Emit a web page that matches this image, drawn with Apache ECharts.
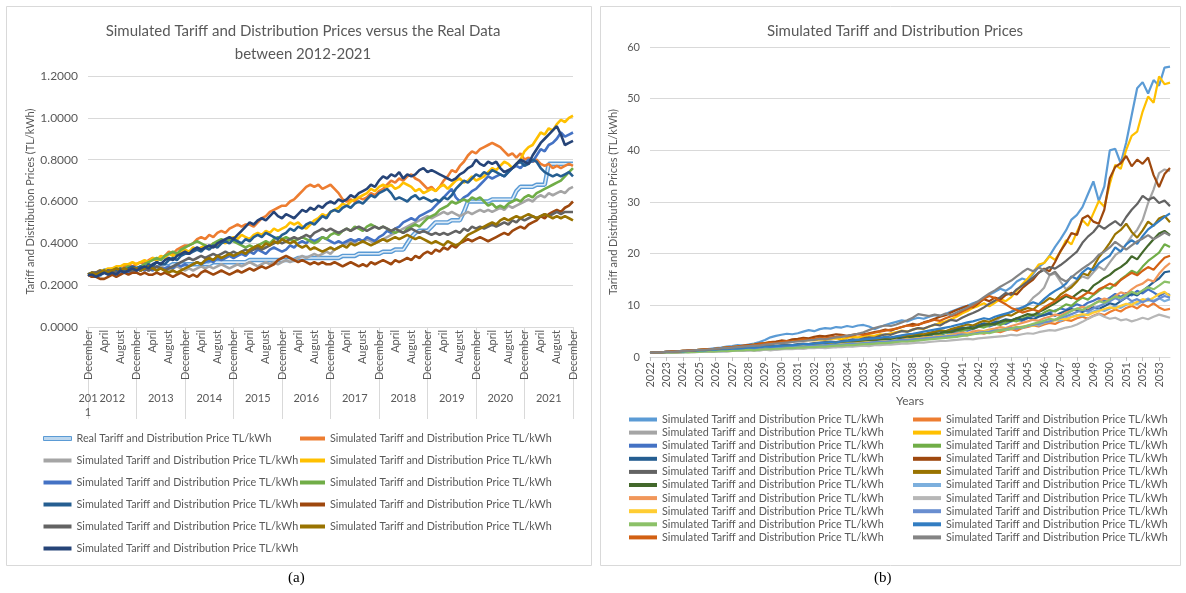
<!DOCTYPE html>
<html>
<head>
<meta charset="utf-8">
<script src="https://cdn.jsdelivr.net/npm/echarts@6/dist/echarts.min.js"></script>
<style>
  html, body { margin: 0; padding: 0; background: #fff; }
  #chart { width: 1186px; height: 593px; }
</style>
</head>
<body>
<div id="chart"></div>
<script>
// ---- panel (a): monthly, December 2011 - December 2021 ----
const monthNames = ['January','February','March','April','May','June','July','August','September','October','November','December'];
const yearsA = ['2011','2012','2013','2014','2015','2016','2017','2018','2019','2020','2021'];
const ticksA = [0, 0.2, 0.4, 0.6, 0.8, 1.0, 1.2];

const aReal = [.25,.25,.25,.25,.27,.27,.27,.27,.27,.27,.28,.28,.28,
  .28,.28,.28,.28,.28,.29,.29,.29,.30,.30,.30,.30,
  .30,.30,.30,.30,.30,.30,.31,.31,.31,.31,.31,.31,
  .31,.31,.31,.32,.32,.32,.32,.32,.32,.32,.32,.32,
  .32,.32,.32,.33,.33,.33,.33,.33,.33,.33,.33,.33,
  .33,.33,.34,.34,.34,.34,.35,.35,.35,.35,.35,.35,
  .36,.36,.36,.37,.37,.37,.40,.43,.45,.46,.46,.46,
  .48,.50,.50,.50,.50,.51,.51,.51,.55,.60,.60,.60,
  .60,.60,.60,.61,.61,.61,.61,.61,.61,.65,.67,.67,
  .67,.67,.68,.68,.68,.78,.78,.78,.78,.78,.78,.78];
const aOrange = [.25,.26,.26,.27,.26,.27,.28,.28,.27,.29,.30,.29,.30,
  .31,.30,.32,.33,.32,.33,.34,.36,.35,.37,.38,.39,
  .39,.40,.42,.43,.42,.44,.43,.45,.46,.45,.47,.48,
  .49,.48,.49,.49,.48,.50,.52,.53,.55,.56,.57,.58,
  .58,.60,.61,.63,.65,.67,.68,.67,.68,.66,.67,.68,
  .66,.64,.61,.60,.61,.60,.62,.61,.62,.64,.63,.65,
  .66,.68,.70,.69,.71,.70,.72,.73,.71,.70,.68,.66,
  .67,.65,.67,.70,.72,.75,.74,.77,.79,.82,.84,.83,
  .85,.86,.87,.88,.87,.86,.84,.82,.83,.81,.83,.80,
  .81,.79,.80,.78,.77,.78,.76,.77,.76,.77,.78,.77];
const aGray = [.25,.25,.26,.25,.26,.27,.26,.27,.26,.27,.28,.27,.28,
  .27,.28,.27,.28,.27,.29,.28,.27,.28,.29,.28,.27,
  .28,.27,.28,.29,.28,.29,.28,.29,.30,.29,.28,.29,
  .30,.29,.30,.31,.30,.29,.30,.31,.30,.31,.30,.31,
  .32,.31,.32,.33,.34,.33,.34,.35,.34,.35,.36,.35,
  .37,.38,.39,.40,.41,.40,.42,.41,.42,.41,.40,.41,
  .42,.43,.44,.45,.46,.47,.48,.49,.50,.51,.52,.53,
  .52,.53,.54,.55,.54,.55,.54,.53,.54,.55,.54,.55,
  .56,.55,.56,.55,.56,.57,.56,.58,.57,.58,.59,.60,
  .61,.60,.62,.63,.62,.64,.63,.64,.65,.64,.66,.67];
const aGold = [.25,.25,.26,.27,.27,.28,.28,.29,.29,.30,.30,.31,.30,
  .31,.32,.31,.33,.32,.34,.33,.35,.34,.35,.36,.37,
  .36,.38,.37,.38,.39,.38,.40,.39,.41,.40,.42,.43,
  .42,.44,.43,.42,.44,.45,.44,.46,.45,.47,.46,.47,
  .48,.50,.49,.50,.48,.47,.49,.51,.52,.54,.53,.55,
  .56,.57,.59,.58,.60,.61,.62,.63,.64,.66,.65,.67,
  .68,.67,.68,.66,.67,.69,.68,.67,.65,.66,.64,.65,
  .66,.65,.67,.68,.66,.68,.70,.71,.69,.70,.72,.70,
  .71,.72,.74,.76,.75,.77,.79,.78,.76,.78,.80,.84,
  .86,.87,.90,.93,.92,.95,.94,.97,.99,.98,1.00,1.01];
const aBlue = [.25,.24,.25,.25,.26,.25,.26,.26,.25,.27,.26,.27,.27,
  .28,.27,.28,.27,.29,.28,.28,.29,.28,.30,.29,.30,
  .29,.30,.31,.30,.31,.32,.31,.33,.32,.33,.34,.33,
  .34,.35,.34,.36,.35,.37,.36,.35,.37,.38,.37,.36,
  .37,.39,.38,.40,.41,.40,.42,.41,.42,.43,.42,.41,
  .40,.41,.40,.41,.42,.41,.42,.41,.43,.42,.41,.43,
  .44,.46,.45,.47,.48,.50,.51,.52,.51,.53,.54,.55,
  .56,.58,.60,.62,.64,.66,.62,.60,.62,.63,.65,.66,
  .68,.70,.72,.71,.72,.73,.72,.74,.76,.77,.76,.78,
  .80,.79,.82,.85,.84,.87,.88,.90,.93,.91,.92,.93];
const aGreen = [.25,.26,.25,.26,.27,.26,.27,.28,.27,.28,.29,.28,.28,
  .29,.30,.31,.32,.33,.32,.34,.35,.36,.35,.37,.38,
  .39,.40,.41,.40,.39,.38,.40,.41,.42,.41,.42,.41,
  .40,.39,.38,.39,.38,.39,.40,.41,.40,.42,.43,.42,
  .43,.42,.41,.42,.43,.42,.41,.40,.41,.43,.42,.44,
  .45,.44,.46,.47,.46,.48,.47,.46,.48,.49,.48,.47,
  .48,.47,.46,.45,.46,.45,.47,.48,.49,.48,.50,.52,
  .53,.54,.56,.57,.58,.60,.59,.60,.61,.60,.62,.61,
  .62,.60,.58,.59,.57,.58,.57,.59,.60,.61,.60,.62,
  .63,.62,.64,.65,.66,.67,.68,.69,.70,.72,.74,.76];
const aDarkBlue = [.25,.25,.26,.25,.26,.27,.26,.27,.28,.27,.28,.29,.28,
  .29,.28,.30,.29,.31,.30,.30,.32,.33,.32,.34,.35,
  .35,.36,.37,.36,.38,.37,.39,.38,.40,.41,.40,.42,
  .41,.40,.42,.41,.43,.44,.43,.45,.44,.43,.42,.44,
  .45,.47,.46,.48,.47,.49,.50,.49,.51,.53,.52,.55,
  .56,.55,.57,.58,.57,.59,.60,.59,.61,.63,.62,.64,
  .65,.66,.64,.61,.62,.61,.60,.62,.63,.61,.62,.61,
  .60,.61,.60,.62,.61,.63,.66,.68,.70,.69,.71,.73,
  .72,.74,.73,.75,.74,.73,.72,.74,.76,.78,.79,.77,
  .78,.80,.79,.76,.74,.73,.72,.73,.72,.73,.74,.72];
const aBrown = [.25,.24,.24,.23,.23,.24,.25,.24,.25,.26,.25,.26,.26,
  .25,.26,.25,.25,.26,.25,.26,.25,.24,.25,.26,.25,
  .24,.25,.24,.26,.27,.26,.25,.26,.27,.26,.25,.26,
  .27,.26,.27,.28,.27,.28,.29,.28,.29,.30,.32,.33,
  .34,.33,.32,.31,.32,.31,.30,.31,.30,.31,.30,.30,
  .31,.30,.29,.30,.31,.30,.29,.30,.29,.31,.30,.31,
  .32,.31,.30,.32,.31,.32,.33,.32,.34,.33,.35,.36,
  .35,.37,.36,.38,.37,.39,.38,.40,.41,.42,.41,.42,
  .43,.42,.41,.42,.43,.44,.45,.44,.46,.47,.48,.47,
  .49,.50,.51,.53,.52,.54,.55,.56,.55,.57,.58,.60];
const aDarkGray = [.25,.26,.26,.27,.26,.27,.27,.26,.27,.28,.27,.27,.28,
  .27,.28,.27,.28,.29,.28,.27,.28,.29,.30,.31,.32,
  .33,.32,.33,.34,.33,.34,.35,.34,.35,.36,.35,.36,
  .35,.36,.37,.36,.37,.38,.37,.38,.39,.40,.41,.40,
  .41,.42,.43,.42,.43,.44,.43,.45,.46,.47,.46,.47,
  .46,.45,.46,.47,.46,.47,.48,.47,.46,.47,.48,.47,
  .48,.47,.46,.47,.46,.45,.46,.47,.46,.45,.46,.45,
  .44,.45,.44,.45,.44,.45,.46,.45,.47,.46,.48,.47,
  .48,.47,.48,.49,.48,.49,.50,.49,.51,.50,.52,.51,
  .52,.53,.52,.53,.54,.53,.54,.55,.54,.55,.55,.55];
const aOlive = [.25,.26,.25,.26,.27,.26,.27,.28,.27,.28,.27,.28,.28,
  .27,.28,.29,.28,.27,.28,.27,.26,.27,.26,.27,.28,
  .29,.30,.31,.30,.32,.33,.32,.34,.33,.34,.35,.34,
  .35,.36,.35,.37,.38,.39,.38,.40,.39,.41,.40,.42,
  .41,.40,.41,.39,.38,.39,.37,.38,.37,.36,.37,.38,
  .37,.38,.39,.38,.40,.39,.40,.41,.40,.39,.40,.41,
  .42,.41,.42,.43,.42,.43,.44,.43,.42,.43,.42,.41,
  .40,.41,.40,.39,.41,.40,.39,.40,.42,.44,.45,.46,
  .47,.48,.49,.50,.49,.51,.52,.51,.52,.53,.52,.53,
  .54,.53,.52,.53,.54,.53,.52,.53,.52,.53,.52,.51];
const aNavy = [.25,.25,.24,.25,.26,.25,.26,.25,.27,.26,.27,.28,.27,
  .28,.29,.28,.30,.31,.30,.32,.33,.32,.34,.35,.36,
  .35,.37,.38,.37,.38,.39,.38,.40,.41,.42,.43,.42,
  .44,.46,.48,.50,.49,.51,.52,.51,.53,.55,.53,.52,
  .54,.53,.52,.54,.56,.55,.57,.56,.58,.57,.59,.60,
  .59,.61,.60,.61,.63,.62,.64,.65,.66,.68,.67,.70,
  .72,.71,.73,.72,.74,.71,.73,.72,.73,.75,.76,.74,
  .75,.74,.73,.72,.71,.70,.71,.73,.74,.76,.77,.80,
  .78,.77,.79,.78,.79,.76,.74,.75,.76,.78,.80,.79,
  .78,.82,.85,.88,.90,.92,.94,.96,.92,.87,.88,.89];

// ---- panel (b): three points a year, 2022 - 2053 ----
const yearsB = [];
for (let y = 2022; y <= 2053; y++) yearsB.push(String(y));
const partsB = ['01', '05', '09'];
const ticksB = [0, 10, 20, 30, 40, 50, 60];

const b01 = [0.8,0.9,0.9,1.0,1.1,1.0,1.2,1.3,1.3,1.4,1.5,1.6,
  1.7,1.8,2.0,2.1,2.3,2.2,2.4,2.6,2.9,3.3,3.8,4.1,
  4.3,4.5,4.4,4.6,4.9,5.2,5.0,5.4,5.6,5.5,5.8,5.7,
  6.0,5.8,6.1,6.2,5.9,5.4,5.8,6.2,6.5,6.8,7.1,6.9,
  7.3,7.6,7.4,7.8,8.1,7.9,8.3,8.8,9.2,9.6,9.9,10.4,
  10.8,11.3,12.1,12.6,13.2,12.8,13.5,14.6,15.2,14.8,16.1,17.4,
  18.2,19.6,21.3,22.8,24.5,26.6,27.5,29.0,31.5,34.0,30.2,33.0,
  40.0,40.3,37.5,41.5,46.8,52.0,53.2,51.0,53.6,52.5,56.0,56.2];
const b02 = [0.8,0.8,0.9,0.9,1.0,1.0,1.0,1.1,1.1,1.2,1.1,1.2,
  1.3,1.2,1.3,1.4,1.3,1.4,1.5,1.4,1.5,1.6,1.5,1.7,
  1.6,1.8,1.7,1.9,1.8,2.0,2.1,2.0,2.2,2.1,2.3,2.4,
  2.3,2.5,2.4,2.6,2.7,2.6,2.8,2.9,3.1,3.0,3.2,3.3,
  3.1,3.4,3.6,3.5,3.7,3.9,3.8,4.1,4.0,4.3,4.2,4.5,
  4.7,4.5,4.8,5.0,4.8,5.2,5.4,5.1,5.6,5.8,6.1,5.9,
  6.3,6.6,6.4,6.9,7.2,7.0,7.5,7.8,7.4,8.0,8.4,8.1,
  8.7,9.2,8.8,9.5,9.9,9.4,10.2,9.7,10.4,9.6,9.1,9.3];
const b03 = [0.8,0.8,0.8,0.9,0.9,1.0,0.9,1.0,1.0,1.1,1.0,1.1,
  1.1,1.2,1.1,1.2,1.3,1.2,1.3,1.4,1.3,1.4,1.5,1.4,
  1.5,1.6,1.6,1.7,1.6,1.8,1.8,1.9,1.8,2.0,1.9,2.1,
  2.2,2.1,2.3,2.4,2.3,2.5,2.6,2.5,2.7,2.9,3.1,3.0,
  3.3,3.5,3.4,3.7,3.9,4.2,4.0,4.4,4.8,5.1,5.5,5.3,
  5.9,6.4,6.2,7.0,7.6,8.1,8.8,9.4,9.1,10.2,11.5,12.3,
  13.4,15.8,16.2,14.6,13.1,13.9,14.8,15.6,15.2,16.4,17.5,16.8,
  18.3,19.7,20.5,21.8,23.4,24.6,26.5,29.8,32.4,35.6,36.3,36.0];
const b04 = [0.8,0.9,0.9,1.0,1.0,1.1,1.2,1.1,1.3,1.4,1.5,1.4,
  1.6,1.7,1.8,1.9,2.0,2.1,2.2,2.4,2.5,2.7,2.9,2.8,
  3.0,2.9,3.1,3.2,3.1,3.3,3.2,3.4,3.3,3.5,3.6,3.4,
  3.7,3.9,3.8,4.0,4.2,4.1,4.4,4.3,4.6,4.8,5.1,4.9,
  5.3,5.6,5.4,5.9,6.2,6.6,6.9,7.3,7.8,8.4,8.9,9.5,
  9.9,10.4,9.8,10.5,11.2,10.8,11.6,12.8,14.1,15.2,16.4,17.9,
  18.2,19.5,18.8,20.4,22.6,21.8,24.2,26.5,25.4,27.8,30.2,29.1,
  33.5,37.2,36.4,40.1,42.8,43.6,47.5,50.4,49.2,54.3,52.8,53.1];
const b05 = [0.8,0.8,0.9,0.9,1.0,0.9,1.0,1.1,1.0,1.1,1.2,1.2,
  1.3,1.2,1.4,1.4,1.5,1.4,1.6,1.5,1.7,1.7,1.8,1.9,
  1.8,2.0,2.1,2.0,2.2,2.1,2.3,2.2,2.4,2.5,2.4,2.6,
  2.7,2.8,2.7,2.9,3.0,3.2,3.1,3.3,3.5,3.4,3.6,3.8,
  3.9,3.7,4.1,4.2,4.4,4.3,4.6,4.8,5.0,5.3,5.1,5.5,
  5.8,6.1,5.9,6.3,6.6,6.4,6.9,7.2,7.0,7.5,7.9,8.3,
  8.1,8.6,9.0,9.4,9.1,9.7,10.2,9.8,10.5,10.9,11.4,10.8,
  11.5,12.2,11.6,12.4,11.9,12.8,12.3,13.1,12.5,11.8,12.4,12.0];
const b06 = [0.8,0.8,0.9,0.9,0.9,1.0,1.0,1.1,1.0,1.1,1.2,1.1,
  1.2,1.3,1.3,1.4,1.3,1.5,1.5,1.6,1.5,1.7,1.6,1.8,
  1.9,1.8,2.0,2.1,2.0,2.2,2.3,2.4,2.3,2.5,2.6,2.5,
  2.7,2.8,2.9,3.0,3.1,2.9,3.2,3.3,3.5,3.6,3.5,3.8,
  3.9,4.1,4.0,4.3,4.5,4.4,4.7,4.9,5.2,5.0,5.4,5.6,
  5.9,5.7,6.1,6.4,6.2,6.7,7.1,6.9,7.4,7.8,8.2,7.9,
  8.6,9.1,8.8,9.5,10.2,9.9,10.8,11.5,11.1,12.0,12.8,13.5,
  13.2,14.1,15.0,15.8,16.7,16.2,17.5,18.6,19.4,20.2,21.8,21.3];
const b07 = [0.8,0.9,0.8,0.9,1.0,1.0,1.1,1.0,1.1,1.2,1.2,1.3,
  1.3,1.4,1.3,1.5,1.4,1.6,1.6,1.7,1.8,1.9,1.8,2.0,
  2.1,2.0,2.2,2.3,2.4,2.3,2.5,2.6,2.5,2.7,2.8,2.9,
  3.0,2.9,3.1,3.2,3.4,3.3,3.5,3.7,3.6,3.9,3.8,4.1,
  4.2,4.4,4.3,4.6,4.8,5.0,4.9,5.2,5.5,5.7,5.6,6.0,
  6.2,6.5,6.3,6.7,6.9,7.3,7.1,7.5,7.2,7.6,7.3,7.8,
  8.1,8.4,8.0,8.5,8.9,9.3,9.0,8.7,9.2,9.6,9.3,9.8,
  10.4,10.1,10.8,11.5,12.3,11.9,12.8,13.6,14.5,15.2,16.4,16.6];
const b08 = [0.8,0.9,0.9,1.0,1.0,1.1,1.2,1.2,1.3,1.4,1.5,1.5,
  1.6,1.7,1.8,1.9,2.0,2.2,2.3,2.4,2.6,2.7,2.9,3.0,
  3.2,3.1,3.4,3.5,3.7,3.6,3.9,4.1,4.0,4.2,4.4,4.3,
  4.1,4.3,4.5,4.4,4.6,4.8,5.0,5.3,5.1,5.5,5.8,6.1,
  6.4,6.2,6.7,7.0,7.4,7.8,8.1,8.6,9.1,9.5,9.9,9.6,
  10.4,11.2,10.8,11.5,11.1,12.0,12.4,12.1,13.3,14.2,15.0,16.3,
  17.1,16.6,18.4,20.5,22.1,24.0,23.6,26.8,27.4,26.2,25.8,28.5,
  34.6,36.8,37.5,38.9,36.9,38.2,37.4,38.6,35.2,32.9,35.4,36.6];
const b09 = [0.8,0.9,0.9,1.0,1.0,1.1,1.1,1.2,1.2,1.3,1.3,1.4,
  1.4,1.5,1.6,1.6,1.7,1.8,1.9,1.8,2.0,2.1,2.2,2.1,
  2.3,2.4,2.3,2.5,2.6,2.5,2.7,2.8,2.9,3.0,2.9,3.1,
  3.2,3.4,3.3,3.6,3.8,3.7,4.1,4.4,4.3,4.7,5.0,4.9,
  5.3,5.6,5.5,5.9,6.3,6.1,6.7,7.2,7.0,7.6,8.1,8.5,
  9.0,9.6,10.3,10.9,11.6,12.4,12.0,13.1,13.8,14.6,15.4,16.3,
  16.9,17.4,17.1,17.8,18.6,19.5,20.4,22.1,23.3,24.2,25.5,24.8,
  25.6,26.3,25.4,27.1,28.5,29.6,31.2,30.4,30.9,29.8,30.3,29.2];
const b10 = [0.8,0.8,0.9,0.9,1.0,1.0,1.1,1.0,1.1,1.2,1.2,1.3,
  1.3,1.4,1.4,1.5,1.6,1.5,1.7,1.7,1.8,1.9,2.0,1.9,
  2.1,2.0,2.2,2.3,2.4,2.3,2.5,2.6,2.7,2.6,2.8,2.9,
  3.0,3.1,3.0,3.2,3.4,3.3,3.5,3.7,3.6,3.9,4.1,4.0,
  4.3,4.5,4.4,4.7,4.9,5.2,5.0,5.4,5.7,6.0,6.3,6.1,
  6.6,7.0,6.8,7.3,7.8,8.2,8.0,8.6,9.1,9.5,9.2,10.1,
  10.6,11.4,11.0,12.1,12.8,13.5,14.6,16.2,15.8,17.4,19.3,20.6,
  22.1,23.8,24.6,25.8,24.2,23.1,24.5,26.2,25.4,26.8,27.3,26.1];
const b11 = [0.8,0.8,0.9,0.9,0.9,1.0,1.0,1.1,1.0,1.1,1.2,1.1,
  1.2,1.3,1.3,1.4,1.3,1.5,1.5,1.6,1.6,1.7,1.8,1.7,
  1.9,1.9,2.0,2.1,2.0,2.2,2.3,2.2,2.4,2.5,2.6,2.5,
  2.7,2.8,2.8,3.0,3.1,3.0,3.2,3.4,3.3,3.6,3.5,3.8,
  3.9,4.1,4.0,4.3,4.5,4.6,4.9,4.8,5.2,5.4,5.7,5.5,
  5.9,6.2,6.4,6.3,6.8,7.1,7.0,7.5,7.9,8.3,8.1,8.7,
  9.2,9.8,10.4,11.1,11.8,11.4,12.2,13.0,12.6,13.8,14.5,15.3,
  15.9,16.8,17.4,18.2,19.5,18.9,20.3,21.6,22.8,23.9,24.4,23.6];
const b12 = [0.8,0.8,0.8,0.9,0.9,0.9,1.0,1.0,1.1,1.0,1.1,1.2,
  1.2,1.1,1.2,1.3,1.3,1.4,1.4,1.5,1.4,1.5,1.6,1.6,
  1.7,1.6,1.8,1.8,1.9,1.9,2.0,2.1,2.0,2.2,2.1,2.3,
  2.4,2.3,2.5,2.6,2.5,2.7,2.8,2.9,2.8,3.0,3.1,3.2,
  3.3,3.2,3.5,3.6,3.8,3.7,3.9,4.1,4.0,4.3,4.5,4.4,
  4.7,4.6,4.9,5.1,5.3,5.2,5.5,5.8,5.6,6.0,6.3,6.1,
  6.6,6.9,7.2,7.0,7.5,7.8,8.1,7.9,8.4,8.8,9.2,8.9,
  9.4,9.8,9.5,10.1,10.6,10.2,10.8,11.3,10.9,11.4,10.8,11.2];
const b13 = [0.8,0.8,0.9,0.9,1.0,0.9,1.0,1.1,1.0,1.1,1.1,1.2,
  1.2,1.3,1.2,1.3,1.4,1.4,1.5,1.4,1.6,1.6,1.7,1.6,
  1.7,1.8,1.8,1.9,2.0,1.9,2.1,2.0,2.2,2.3,2.2,2.4,
  2.5,2.4,2.6,2.7,2.8,2.7,2.9,3.1,3.0,3.2,3.3,3.5,
  3.4,3.6,3.8,3.7,3.9,4.1,4.0,4.3,4.5,4.7,4.6,4.9,
  5.1,5.0,5.3,5.5,5.8,5.6,6.0,6.3,6.6,6.9,7.2,7.0,
  7.5,7.8,8.2,8.0,8.6,9.0,9.3,9.7,9.4,10.2,10.8,11.3,
  11.0,11.8,12.5,12.2,13.1,13.8,14.2,15.0,14.6,16.1,17.3,18.2];
const b14 = [0.8,0.8,0.8,0.8,0.9,0.9,0.9,1.0,0.9,1.0,1.0,1.0,
  1.1,1.1,1.1,1.2,1.2,1.2,1.3,1.2,1.3,1.4,1.3,1.4,
  1.5,1.5,1.5,1.6,1.6,1.7,1.7,1.8,1.7,1.8,1.9,1.9,
  2.0,2.0,2.1,2.2,2.1,2.3,2.3,2.4,2.4,2.5,2.6,2.6,
  2.7,2.8,2.8,2.9,3.0,3.1,3.1,3.2,3.3,3.4,3.5,3.4,
  3.6,3.7,3.8,3.9,4.0,4.1,4.3,4.2,4.4,4.6,4.5,4.8,
  5.0,5.2,5.1,5.4,5.7,5.9,6.3,6.8,7.4,7.9,8.3,7.8,
  7.4,7.6,7.1,7.3,6.9,7.2,7.6,7.3,7.8,8.2,7.9,7.6];
const b15 = [0.8,0.8,0.9,0.9,0.9,1.0,1.0,1.0,1.1,1.1,1.2,1.2,
  1.2,1.3,1.3,1.4,1.4,1.5,1.5,1.6,1.6,1.7,1.7,1.8,
  1.8,1.9,1.9,2.0,2.1,2.0,2.2,2.2,2.3,2.4,2.4,2.5,
  2.6,2.6,2.7,2.8,2.9,2.8,3.0,3.1,3.1,3.3,3.2,3.4,
  3.5,3.6,3.7,3.8,3.9,4.0,4.1,4.3,4.2,4.4,4.6,4.5,
  4.8,4.9,5.1,5.0,5.3,5.5,5.4,5.7,5.9,6.1,6.0,6.4,
  6.6,6.9,7.1,7.4,7.3,7.7,8.0,8.3,8.1,8.6,8.9,9.3,
  9.6,9.4,9.9,10.3,10.1,10.7,11.2,10.9,11.5,12.2,12.6,11.8];
const b16 = [0.8,0.8,0.9,0.9,0.9,1.0,1.0,1.1,1.1,1.1,1.2,1.2,
  1.3,1.2,1.3,1.4,1.4,1.5,1.5,1.6,1.5,1.6,1.7,1.7,
  1.8,1.8,1.9,2.0,2.0,2.1,2.1,2.2,2.3,2.3,2.4,2.4,
  2.5,2.6,2.6,2.7,2.8,2.9,3.0,3.0,3.1,3.2,3.3,3.3,
  3.4,3.5,3.6,3.7,3.8,3.9,4.0,4.1,4.2,4.4,4.3,4.5,
  4.7,4.8,4.9,5.1,5.2,5.4,5.6,5.5,5.8,6.0,6.2,6.4,
  6.7,6.9,7.2,7.6,7.9,8.3,8.7,9.1,8.8,9.4,9.8,10.3,
  10.8,11.4,10.9,11.6,10.8,11.2,10.6,11.1,10.7,11.3,11.8,11.5];
const b17 = [0.8,0.8,0.8,0.9,0.9,0.9,1.0,0.9,1.0,1.0,1.1,1.1,
  1.1,1.2,1.2,1.2,1.3,1.3,1.4,1.3,1.4,1.5,1.5,1.6,
  1.6,1.7,1.7,1.8,1.8,1.9,1.9,2.0,2.0,2.1,2.2,2.2,
  2.3,2.3,2.4,2.5,2.5,2.6,2.7,2.7,2.8,2.9,3.0,3.0,
  3.1,3.2,3.3,3.4,3.5,3.6,3.7,3.8,3.9,4.1,4.2,4.4,
  4.5,4.7,4.6,4.9,5.1,5.3,5.5,5.8,5.7,6.1,6.4,6.7,
  7.0,7.4,7.2,7.8,8.3,8.9,9.4,9.1,9.7,10.2,10.8,10.5,
  11.1,11.7,11.4,12.0,12.6,12.2,12.9,13.5,13.1,13.8,14.6,14.4];
const b18 = [0.8,0.9,0.9,1.0,1.0,1.1,1.1,1.2,1.2,1.3,1.3,1.4,
  1.4,1.5,1.5,1.6,1.6,1.7,1.8,1.8,1.9,2.0,2.0,2.1,
  2.2,2.2,2.3,2.4,2.5,2.5,2.6,2.7,2.8,2.9,2.8,3.0,
  3.1,3.2,3.3,3.4,3.5,3.6,3.7,3.9,3.8,4.0,4.2,4.4,
  4.5,4.7,4.9,5.1,5.3,5.5,5.7,5.9,6.2,6.4,6.7,6.9,
  7.2,7.5,7.3,7.8,8.1,8.4,8.7,9.2,9.6,10.1,10.6,10.2,
  11.2,12.1,12.8,13.4,14.2,15.6,15.1,16.4,17.2,16.8,18.1,18.9,
  19.6,21.2,20.4,21.8,22.6,21.9,23.4,24.7,25.5,26.3,27.1,27.8];
const b19 = [0.8,0.9,0.9,1.0,1.1,1.1,1.2,1.3,1.3,1.4,1.5,1.5,
  1.6,1.7,1.8,1.9,2.0,2.1,2.2,2.3,2.5,2.6,2.8,2.7,
  2.9,3.1,3.0,3.2,3.4,3.3,3.5,3.7,3.6,3.8,3.9,4.1,
  4.0,4.2,4.4,4.3,4.5,4.7,4.9,5.1,5.3,5.5,5.8,6.1,
  6.0,6.3,6.6,6.9,7.2,7.0,7.5,7.9,8.2,8.8,9.3,9.8,
  10.6,11.3,11.8,11.4,10.8,10.2,9.5,9.1,8.6,8.9,9.2,8.8,
  9.6,10.2,10.8,11.5,12.1,11.6,11.2,11.8,12.5,12.2,13.1,13.6,
  14.2,13.8,14.9,15.6,16.3,15.8,16.7,17.4,16.9,18.1,19.2,19.6];
const b20 = [0.8,0.9,0.9,1.0,1.0,1.1,1.2,1.2,1.3,1.4,1.4,1.5,
  1.6,1.7,1.7,1.8,1.9,2.0,2.1,2.2,2.2,2.4,2.5,2.6,
  2.7,2.8,2.9,3.0,3.1,3.2,3.3,3.5,3.4,3.6,3.8,3.9,
  4.1,4.3,4.5,4.8,5.2,5.6,5.9,6.1,6.0,6.3,6.7,7.1,
  7.6,8.3,8.1,7.9,8.2,8.0,8.4,8.1,8.6,9.1,9.6,10.2,
  10.8,11.6,12.3,12.9,13.6,14.2,14.8,15.6,16.4,17.1,16.6,17.3,
  16.8,15.9,16.5,15.2,14.6,15.4,16.3,17.1,17.8,18.6,19.8,20.4,
  21.2,22.3,21.5,20.8,21.6,22.4,22.9,23.6,22.8,23.4,24.1,23.5];

// ---- build categories ----
const catsA = ['December ' + yearsA[0]];
yearsA.slice(1).forEach(y => monthNames.forEach(m => catsA.push(m + ' ' + y)));
const catsB = [];
yearsB.forEach(y => partsB.forEach(p => catsB.push(y + '-' + p)));

const FONT = 'Lato, "Open Sans", sans-serif';
const TXT = '#595959';
const GRID_LINE = '#d9d9d9';
const realName = 'Real Tariff and Distribution Price TL/kWh';
const simName = 'Simulated Tariff and Distribution Price TL/kWh';

// names must be unique for the legend, pad with trailing spaces and trim when shown
const simA = [
  [aOrange, '#ED7D31'], [aGray, '#A5A5A5'], [aGold, '#FFC000'], [aBlue, '#4472C4'],
  [aGreen, '#70AD47'], [aDarkBlue, '#255E91'], [aBrown, '#9E480E'], [aDarkGray, '#636363'],
  [aOlive, '#997300'], [aNavy, '#264478']
];
const simB = [
  [b01, '#5B9BD5'], [b02, '#ED7D31'], [b03, '#A5A5A5'], [b04, '#FFC000'], [b05, '#4472C4'],
  [b06, '#70AD47'], [b07, '#255E91'], [b08, '#9E480E'], [b09, '#636363'], [b10, '#997300'],
  [b11, '#43682B'], [b12, '#7CAFDD'], [b13, '#F1975A'], [b14, '#B7B7B7'], [b15, '#FFCD33'],
  [b16, '#698ED0'], [b17, '#8CC168'], [b18, '#327DC2'], [b19, '#D26012'], [b20, '#848484']
];
const namesA = simA.map((s, i) => simName + ' '.repeat(i + 1));
const namesB = simB.map((s, i) => simName + ' '.repeat(i + 20));

function lineSeries(name, data, color, width, xi, yi) {
  return {
    type: 'line', name: name, data: data,
    xAxisIndex: xi, yAxisIndex: yi,
    symbol: 'none', smooth: false,
    lineStyle: { color: color, width: width },
    itemStyle: { color: color },
    emphasis: { disabled: true }
  };
}

const series = [];
series.push(lineSeries(realName, aReal, '#5B9BD5', 4.5, 0, 0));
series.push(Object.assign(lineSeries('real-inner', aReal, '#DDEBF7', 1.6, 0, 0), { silent: true }));
simA.forEach((s, i) => series.push(lineSeries(namesA[i], s[0], s[1], 2.6, 0, 0)));
simB.forEach((s, i) => series.push(lineSeries(namesB[i], s[0], s[1], 2.2, 2, 1)));

function legend(data, left, top, gap, w) {
  return {
    data: data, orient: 'vertical', left: left, top: top,
    icon: 'rect', itemWidth: w, itemHeight: 4, itemGap: gap,
    selectedMode: false,
    formatter: n => n.trim(),
    textStyle: { fontSize: 10.8, color: TXT, fontFamily: FONT }
  };
}

const legendALeft = [{ name: realName, itemStyle: { color: '#BDD7EE', borderColor: '#5B9BD5', borderWidth: 1 } }]
  .concat(namesA.filter((n, i) => i % 2 === 1));
const legendARight = namesA.filter((n, i) => i % 2 === 0);
const legendBLeft = namesB.filter((n, i) => i % 2 === 0);
const legendBRight = namesB.filter((n, i) => i % 2 === 1);

const chart = echarts.init(document.getElementById('chart'));
chart.setOption({
  animation: false,
  backgroundColor: '#fff',
  textStyle: { fontFamily: FONT },
  title: [
    {
      text: 'Simulated Tariff and Distribution Prices versus the Real Data\nbetween 2012-2021',
      left: 298, top: 15, textAlign: 'center',
      textStyle: { fontSize: 15, fontWeight: 'normal', color: TXT, lineHeight: 23, fontFamily: FONT }
    },
    {
      text: 'Simulated Tariff and Distribution Prices',
      left: 890, top: 15, textAlign: 'center',
      textStyle: { fontSize: 15, fontWeight: 'normal', color: TXT, lineHeight: 23, fontFamily: FONT }
    }
  ],
  legend: [
    legend(legendALeft, 38, 428, 11, 28),
    legend(legendARight, 295, 428, 11, 25),
    legend(legendBLeft, 624, 409, 2.1, 28),
    legend(legendBRight, 908, 409, 2.1, 28)
  ],
  grid: [
    { left: 88, right: 613, top: 76, bottom: 266, outerBoundsMode: 'none' },
    { left: 650, right: 16, top: 47, bottom: 236, outerBoundsMode: 'none' }
  ],
  xAxis: [
    {
      type: 'category', gridIndex: 0, data: catsA, boundaryGap: false,
      axisLine: { lineStyle: { color: GRID_LINE } },
      axisTick: { show: true, length: 92, interval: i => i % 12 === 0, lineStyle: { color: GRID_LINE } },
      axisLabel: {
        interval: i => i % 4 === 0, rotate: 90, margin: 3,
        formatter: v => v.split(' ')[0], fontSize: 11, color: TXT
      },
      splitLine: { show: false }
    },
    {
      type: 'category', gridIndex: 0, data: catsA, boundaryGap: false,
      position: 'bottom', offset: 58,
      axisLine: { show: false }, axisTick: { show: false },
      axisLabel: {
        interval: i => i === 0 || i % 12 === 6, margin: 6, lineHeight: 14,
        formatter: v => { const y = v.split(' ')[1]; return y === yearsA[0] ? y.slice(0, 3) + '\n' + y.slice(3) : y; },
        fontSize: 11, color: TXT
      },
      splitLine: { show: false }
    },
    {
      type: 'category', gridIndex: 1, data: catsB, boundaryGap: false,
      axisLine: { lineStyle: { color: GRID_LINE } },
      axisTick: { show: true, length: 4, interval: i => i % 3 === 0, lineStyle: { color: '#bfbfbf' } },
      axisLabel: {
        interval: i => i % 3 === 0, rotate: 90, margin: 5,
        formatter: v => v.slice(0, 4), fontSize: 11, color: TXT
      },
      name: 'Years', nameLocation: 'middle', nameGap: 37,
      nameTextStyle: { fontSize: 12, color: TXT },
      splitLine: { show: false }
    }
  ],
  yAxis: [
    {
      type: 'value', gridIndex: 0, min: ticksA[0], max: ticksA[ticksA.length - 1], interval: 0.2,
      axisLine: { show: false }, axisTick: { show: false },
      axisLabel: { formatter: v => v.toFixed(4), fontSize: 12, color: TXT, margin: 10 },
      splitLine: { lineStyle: { color: GRID_LINE } },
      name: 'Tariff and Distribution Prices (TL/kWh)', nameLocation: 'middle', nameGap: 52,
      nameTextStyle: { fontSize: 11, color: TXT }
    },
    {
      type: 'value', gridIndex: 1, min: ticksB[0], max: ticksB[ticksB.length - 1], interval: 10,
      axisLine: { show: false }, axisTick: { show: false },
      axisLabel: { fontSize: 11, color: TXT, margin: 10 },
      splitLine: { lineStyle: { color: GRID_LINE } },
      name: 'Tariff and Distribution Prices (TL/kWh)', nameLocation: 'middle', nameGap: 31,
      nameTextStyle: { fontSize: 11, color: TXT }
    }
  ],
  graphic: [
    { type: 'rect', shape: { x: 6.5, y: 6.5, width: 585, height: 559 }, style: { fill: 'none', stroke: GRID_LINE, lineWidth: 1 }, z: -1 },
    { type: 'rect', shape: { x: 600.5, y: 6.5, width: 580, height: 559 }, style: { fill: 'none', stroke: GRID_LINE, lineWidth: 1 }, z: -1 },
    { type: 'text', left: 288, top: 571, style: { text: '(a)', fontSize: 15, fontFamily: '"Liberation Serif", serif', fill: '#000' } },
    { type: 'text', left: 874, top: 571, style: { text: '(b)', fontSize: 15, fontFamily: '"Liberation Serif", serif', fill: '#000' } }
  ],
  series: series
});
</script>
</body>
</html>
